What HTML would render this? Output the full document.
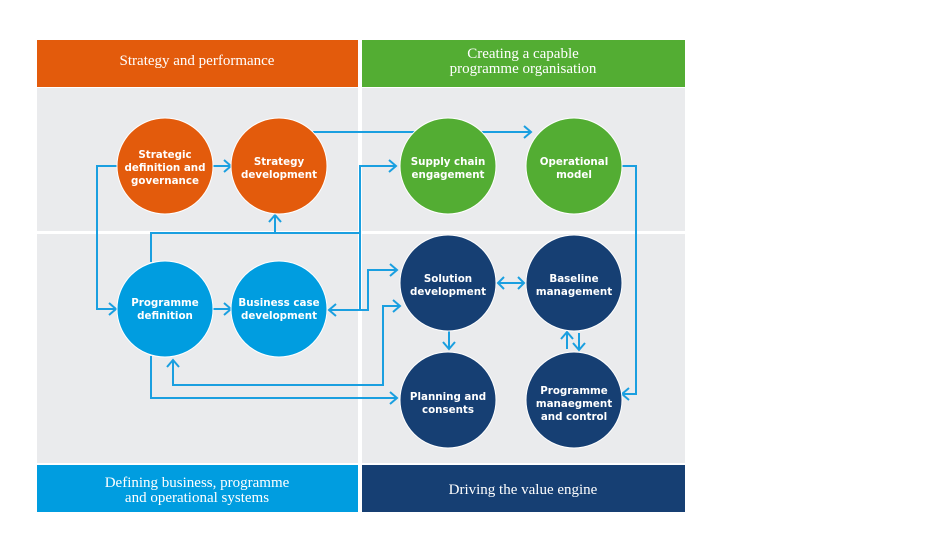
<!DOCTYPE html>
<html><head><meta charset="utf-8"><style>
body{margin:0;background:#fff;width:940px;height:552px;overflow:hidden}
svg{display:block}
.h{font-family:"Liberation Serif",serif;font-size:15px;fill:#fff;text-anchor:middle}
.c{font-family:"DejaVu Sans","Liberation Sans",sans-serif;font-weight:bold;font-size:10.3px;fill:#fff;text-anchor:middle}
.l{fill:none;stroke:#1a9fe0;stroke-width:2}
</style></head><body>
<svg width="940" height="552" viewBox="0 0 940 552">
<rect x="37" y="40" width="321" height="47" fill="#e35b0c"/>
<rect x="362" y="40" width="323" height="47" fill="#53ad33"/>
<rect x="37" y="88" width="321" height="143" fill="#eaebed"/>
<rect x="362" y="88" width="323" height="143" fill="#eaebed"/>
<rect x="37" y="234" width="321" height="229" fill="#eaebed"/>
<rect x="362" y="234" width="323" height="229" fill="#eaebed"/>
<rect x="37" y="465" width="321" height="47" fill="#009de0"/>
<rect x="362" y="465" width="323" height="47" fill="#163f73"/>
<text class="h" x="197" y="65">Strategy and performance</text>
<text class="h" x="523" y="58">Creating a capable</text>
<text class="h" x="523" y="73">programme organisation</text>
<text class="h" x="197" y="487">Defining business, programme</text>
<text class="h" x="197" y="502">and operational systems</text>
<text class="h" x="523" y="494">Driving the value engine</text>
<g class="l">
<path d="M313 132H531"/><path d="M524 126l7 6-7 6"/>
<path d="M117 166H97V309H115"/><path d="M109 303l7 6-7 6"/>
<path d="M213 166H230"/><path d="M224 160l7 6-7 6"/>
<path d="M213 309H230"/><path d="M224 303l7 6-7 6"/>
<path d="M151 262V233H360"/><path d="M275 233V216"/><path d="M269 222l6-7 6 7"/>
<path d="M395 166H360V310H330"/><path d="M389 160l7 6-7 6"/><path d="M336 304l-7 6 7 6"/>
<path d="M360 310H368V270H396"/><path d="M390 264l7 6-7 6"/>
<path d="M151 356V398H396"/><path d="M390 392l7 6-7 6"/>
<path d="M173 360V385H383V306H399"/><path d="M393 300l7 6-7 6"/><path d="M167 367l6-7 6 7"/>
<path d="M498 283H524"/><path d="M504 277l-6 6 6 6"/><path d="M518 277l6 6-6 6"/>
<path d="M449 331V348"/><path d="M443 342l6 7 6-7"/>
<path d="M567 333V349"/><path d="M561 339l6-7 6 7"/>
<path d="M579 333V349"/><path d="M573 343l6 7 6-7"/>
<path d="M622 166H636V394H623"/><path d="M629 388l-7 6 7 6"/>
</g>
<g stroke="#fff" stroke-width="1">
<circle cx="165" cy="166" r="48" fill="#e35b0c"/>
<circle cx="279" cy="166" r="48" fill="#e35b0c"/>
<circle cx="448" cy="166" r="48" fill="#53ad33"/>
<circle cx="574" cy="166" r="48" fill="#53ad33"/>
<circle cx="165" cy="309" r="48" fill="#009de0"/>
<circle cx="279" cy="309" r="48" fill="#009de0"/>
<circle cx="448" cy="283" r="48" fill="#163f73"/>
<circle cx="574" cy="283" r="48" fill="#163f73"/>
<circle cx="448" cy="400" r="48" fill="#163f73"/>
<circle cx="574" cy="400" r="48" fill="#163f73"/>
</g>
<text class="c" x="165" y="158">Strategic</text><text class="c" x="165" y="171">definition and</text><text class="c" x="165" y="184">governance</text>
<text class="c" x="279" y="165">Strategy</text><text class="c" x="279" y="178">development</text>
<text class="c" x="448" y="165">Supply chain</text><text class="c" x="448" y="178">engagement</text>
<text class="c" x="574" y="165">Operational</text><text class="c" x="574" y="178">model</text>
<text class="c" x="165" y="306">Programme</text><text class="c" x="165" y="319">definition</text>
<text class="c" x="279" y="306">Business case</text><text class="c" x="279" y="319">development</text>
<text class="c" x="448" y="282">Solution</text><text class="c" x="448" y="295">development</text>
<text class="c" x="574" y="282">Baseline</text><text class="c" x="574" y="295">management</text>
<text class="c" x="448" y="400">Planning and</text><text class="c" x="448" y="413">consents</text>
<text class="c" x="574" y="394">Programme</text><text class="c" x="574" y="407">manaegment</text><text class="c" x="574" y="420">and control</text>
</svg>
</body></html>
